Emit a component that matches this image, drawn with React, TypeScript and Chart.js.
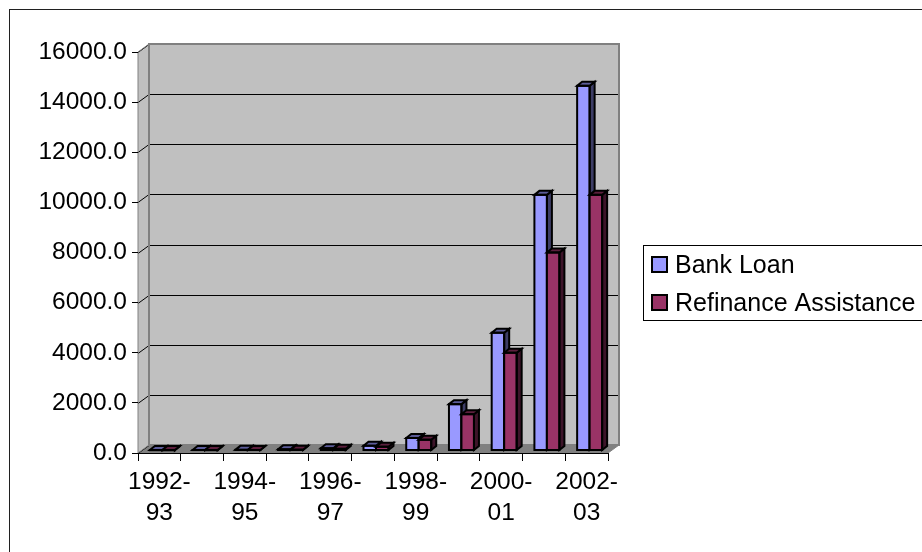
import React, { useEffect, useRef } from "react";
import { Chart, registerables } from "chart.js";

Chart.register(...registerables);

// Fiscal years on the category axis
const categories = [
  "1992-93", "1993-94", "1994-95", "1995-96", "1996-97", "1997-98",
  "1998-99", "1999-00", "2000-01", "2001-02", "2002-03",
];

// Disbursements per year
const bankLoan = [12, 18, 25, 45, 90, 190, 500, 1850, 4700, 10200, 14550];
const refinanceAssistance = [8, 12, 18, 32, 65, 150, 430, 1450, 3900, 7900, 10200];

const seriesNames = ["Bank Loan", "Refinance Assistance"];

// Value axis
const yMin = 0;
const yMax = 16000;
const yStep = 2000;

const FONT = '"Liberation Sans", Arial, Helvetica, sans-serif';
const AXIS_FONT_SIZE = 24.5;
const LEGEND_FONT_SIZE = 25;

// Face colours per series: front, top, side
const SERIES_COLORS = [
  { front: "#9999FF", top: "#5C5C99", side: "#3D3D66" },
  { front: "#993366", top: "#5C1F3D", side: "#3D1429" },
];

// Depth of the chart "box" (back wall offset from the front plane)
const WALL_DX = 11;
const WALL_DY = -8;
// Where bars sit inside the box, and their own depth
const BAR_SHIFT_X = 3;
const BAR_SHIFT_Y = -2.5;
const BAR_DX = 5;
const BAR_DY = -4;

const WALL_FILL = "#C0C0C0";
const FLOOR_FILL = "#808080";
const WALL_EDGE = "#808080";

function poly(ctx: CanvasRenderingContext2D, pts: number[][]) {
  ctx.beginPath();
  ctx.moveTo(pts[0][0], pts[0][1]);
  for (let i = 1; i < pts.length; i++) ctx.lineTo(pts[i][0], pts[i][1]);
  ctx.closePath();
}

const boxPlugin = {
  id: "box3d",
  beforeDraw(chart: any) {
    const { ctx, chartArea } = chart;
    const { left, right, top, bottom } = chartArea;
    const yScale = chart.scales.y;
    ctx.save();

    // outer frame
    ctx.strokeStyle = "#202020";
    ctx.lineWidth = 1;
    ctx.strokeRect(9.5, 9.5, 2000, 2000);

    // back wall
    ctx.fillStyle = WALL_FILL;
    ctx.fillRect(left + WALL_DX, top + WALL_DY, right - left, bottom - top);
    // left side wall
    poly(ctx, [
      [left, top],
      [left + WALL_DX, top + WALL_DY],
      [left + WALL_DX, bottom + WALL_DY],
      [left, bottom],
    ]);
    ctx.fill();
    // floor
    ctx.fillStyle = FLOOR_FILL;
    poly(ctx, [
      [left, bottom],
      [left + WALL_DX, bottom + WALL_DY],
      [right + WALL_DX, bottom + WALL_DY],
      [right, bottom],
    ]);
    ctx.fill();

    // gridlines on the back wall and their connectors across the side wall
    ctx.strokeStyle = "#000";
    ctx.lineWidth = 1;
    for (const t of yScale.ticks) {
      const py = Math.round(yScale.getPixelForValue(t.value)) + 0.5;
      if (t.value > yMin) {
        ctx.beginPath();
        ctx.moveTo(left + WALL_DX, py + WALL_DY);
        ctx.lineTo(right + WALL_DX, py + WALL_DY);
        ctx.stroke();
      }
      ctx.beginPath();
      ctx.moveTo(left, py);
      ctx.lineTo(left + WALL_DX, py + WALL_DY);
      ctx.stroke();
    }

    // wall edges
    ctx.strokeStyle = WALL_EDGE;
    ctx.lineWidth = 2;
    ctx.strokeRect(left + WALL_DX, top + WALL_DY, right - left, bottom - top);
    ctx.lineWidth = 1;
    poly(ctx, [
      [left, top],
      [left + WALL_DX, top + WALL_DY],
      [left + WALL_DX, bottom + WALL_DY],
      [left, bottom],
    ]);
    ctx.stroke();
    ctx.beginPath();
    ctx.moveTo(right, bottom);
    ctx.lineTo(right + WALL_DX, bottom + WALL_DY);
    ctx.stroke();
    ctx.restore();
  },
  beforeDatasetsDraw(chart: any) {
    chart.ctx.save();
    chart.ctx.translate(BAR_SHIFT_X, BAR_SHIFT_Y);
  },
  afterDatasetsDraw(chart: any) {
    const ctx: CanvasRenderingContext2D = chart.ctx;
    const metas = [chart.getDatasetMeta(0), chart.getDatasetMeta(1)];
    ctx.lineWidth = 2;
    ctx.lineJoin = "miter";
    ctx.strokeStyle = "#000";
    for (let i = 0; i < categories.length; i++) {
      metas.forEach((meta: any, d: number) => {
        const el = meta.data[i];
        if (!el) return;
        const { x, y, base, width } = el.getProps(["x", "y", "base", "width"], true);
        const x0 = x - width / 2;
        const x1 = x + width / 2;
        const t = Math.min(y, base);
        const b = Math.max(y, base);
        const c = SERIES_COLORS[d];
        // front face
        ctx.fillStyle = c.front;
        ctx.fillRect(x0, t, x1 - x0, b - t);
        // side face
        poly(ctx, [
          [x1, b],
          [x1 + BAR_DX, b + BAR_DY],
          [x1 + BAR_DX, t + BAR_DY],
          [x1, t],
        ]);
        ctx.fillStyle = c.side;
        ctx.fill();
        ctx.stroke();
        // top face
        poly(ctx, [
          [x0, t],
          [x0 + BAR_DX, t + BAR_DY],
          [x1 + BAR_DX, t + BAR_DY],
          [x1, t],
        ]);
        ctx.fillStyle = c.top;
        ctx.fill();
        ctx.stroke();
        // front outline
        ctx.strokeRect(x0, t, x1 - x0, b - t);
      });
    }
    ctx.restore();
  },
  afterDraw(chart: any) {
    const ctx: CanvasRenderingContext2D = chart.ctx;
    ctx.save();
    // legend box
    ctx.strokeStyle = "#000";
    ctx.lineWidth = 1;
    ctx.strokeRect(643.5, 245.5, 300, 75);
    ctx.font = `${LEGEND_FONT_SIZE}px ${FONT}`;
    ctx.textAlign = "left";
    ctx.textBaseline = "alphabetic";
    const rows = [257, 295];
    seriesNames.forEach((name, d) => {
      const sy = rows[d];
      ctx.fillStyle = SERIES_COLORS[d].front;
      ctx.fillRect(652, sy, 15, 15);
      ctx.lineWidth = 2;
      ctx.strokeStyle = "#000";
      ctx.strokeRect(652, sy, 15, 15);
      ctx.fillStyle = "#000";
      ctx.fillText(name, 675, sy + 16);
    });
    ctx.restore();
  },
};

export default function App() {
  const canvasRef = useRef<HTMLCanvasElement | null>(null);

  useEffect(() => {
    const canvas = canvasRef.current;
    if (!canvas) return;
    Chart.defaults.font.family = FONT;
    const chart = new Chart(canvas, {
      type: "bar",
      data: {
        labels: categories,
        datasets: [
          {
            label: seriesNames[0],
            data: bankLoan,
            backgroundColor: SERIES_COLORS[0].front,
            borderWidth: 0,
            clip: false,
          },
          {
            label: seriesNames[1],
            data: refinanceAssistance,
            backgroundColor: SERIES_COLORS[1].front,
            borderWidth: 0,
            clip: false,
          },
        ] as any,
      },
      options: {
        responsive: false,
        animation: false,
        devicePixelRatio: 1,
        events: [],
        layout: { padding: { left: 0, top: 52, right: 314, bottom: 0 } },
        datasets: { bar: { categoryPercentage: 0.585, barPercentage: 1 } },
        plugins: {
          legend: { display: false },
          tooltip: { enabled: false },
          title: { display: false },
        },
        scales: {
          x: {
            offset: true,
            grid: {
              offset: true,
              drawOnChartArea: false,
              drawTicks: true,
              tickLength: 8,
              tickColor: "#000",
              tickWidth: 1,
            },
            border: { display: true, color: "#000", width: 1 },
            ticks: {
              autoSkip: false,
              maxRotation: 0,
              minRotation: 0,
              padding: 6,
              color: "#000",
              font: { size: AXIS_FONT_SIZE, family: FONT, lineHeight: 1.27 },
              callback: (_v: any, index: number) => {
                if (index % 2 === 1) return "";
                const lab = categories[index];
                const cut = lab.indexOf("-");
                return [lab.slice(0, cut + 1), lab.slice(cut + 1)];
              },
            },
            afterFit: (scale: any) => {
              scale.height = 99;
            },
          },
          y: {
            min: yMin,
            max: yMax,
            grid: {
              drawOnChartArea: false,
              drawTicks: true,
              tickLength: 6,
              tickColor: "#000",
              tickWidth: 1,
            },
            border: { display: false },
            ticks: {
              stepSize: yStep,
              padding: 5,
              color: "#000",
              font: { size: AXIS_FONT_SIZE, family: FONT },
              callback: (v: any) => Number(v).toFixed(1),
            },
            afterFit: (scale: any) => {
              scale.width = 138;
            },
          },
        },
      } as any,
      plugins: [boxPlugin],
    });
    return () => chart.destroy();
  }, []);

  return (
    <div style={{ position: "fixed", left: 0, top: 0, width: 922, height: 552, background: "#fff" }}>
      <canvas ref={canvasRef} width={922} height={552} style={{ display: "block", width: 922, height: 552 }} />
    </div>
  );
}
